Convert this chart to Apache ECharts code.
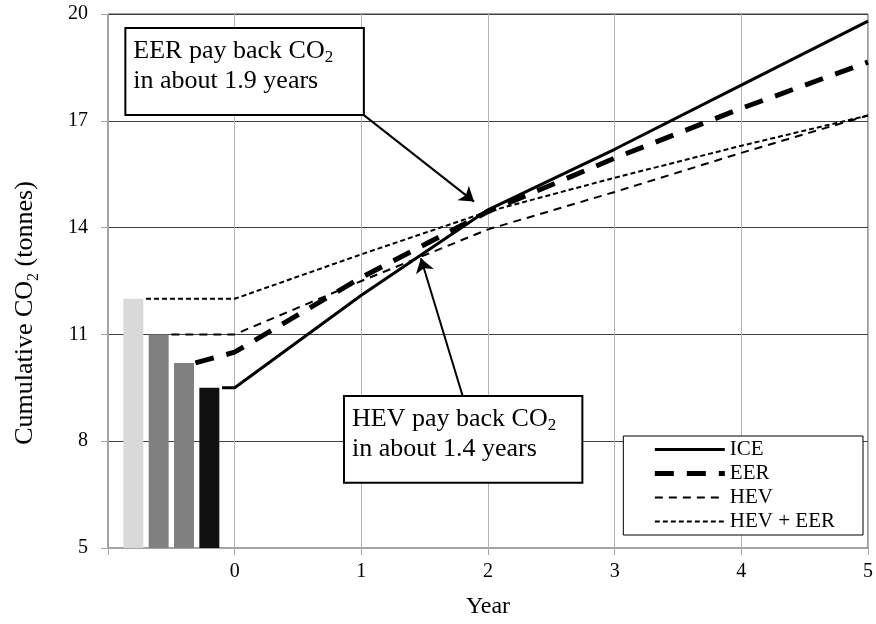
<!DOCTYPE html>
<html><head><meta charset="utf-8">
<script src="https://cdn.jsdelivr.net/npm/echarts@6/dist/echarts.min.js"></script>
<style>html,body{margin:0;padding:0;background:#fff}#c{width:876px;height:624px}</style>
</head><body><div id="c"></div>
<script>
const FONT = 'Liberation Serif';

// Bars (initial manufacturing CO2)
const barX = [-0.8, -0.6, -0.4, -0.2];
const barY = [12.0, 11.0, 10.2, 9.5];
const barColors = ['#d9d9d9', '#808080', '#808080', '#111111'];

// Cumulative CO2 lines
const iceX = [-0.1, 0, 1, 2, 3, 4, 5];
const iceY = [9.5, 9.5, 12.1, 14.5, 16.2, 18.0, 19.8];
const eerX = [-0.31, 0, 1, 2, 3, 4, 5];
const eerY = [10.2, 10.5, 12.6, 14.45, 15.95, 17.35, 18.65];
const hevX = [-0.5, 0, 1, 2, 3, 4, 5];
const hevY = [11.0, 11.0, 12.5, 13.95, 15.0, 16.1, 17.15];
const hevEerX = [-0.7, 0, 1, 2, 3, 4, 5];
const hevEerY = [12.0, 12.0, 13.25, 14.45, 15.4, 16.3, 17.15];

const xTicks = [-1, 0, 1, 2, 3, 4, 5];
const yTicks = [5, 8, 11, 14, 17, 20];
const seriesNames = ['ICE', 'EER', 'HEV', 'HEV + EER'];

// Annotations (data coordinates)
const note1Box = [-0.863, 19.61, 1.02, 17.16];
const note1Arrow = [[1.02, 17.16], [1.89, 14.73]];
const note1Text = ['EER pay back CO{s|2}', 'in about 1.9 years'];
const note2Box = [0.863, 9.27, 2.745, 6.83];
const note2Arrow = [[1.80, 9.27], [1.47, 13.14]];
const note2Text = ['HEV pay back CO{s|2}', 'in about 1.4 years'];

const zip = (xs, ys) => xs.map((x, i) => [x, ys[i]]);

const chart = echarts.init(document.getElementById('c'), null, {renderer: 'canvas'});

const styles = {
  'ICE': {width: 3, type: 'solid'},
  'EER': {width: 5, type: [19, 13]},
  'HEV': {width: 2, type: [8, 6]},
  'HEV + EER': {width: 2, type: [5, 3]}
};

const lineSeries = (name, xs, ys) => ({
  name, type: 'line', data: zip(xs, ys), symbol: 'none', z: 5,
  itemStyle: {color: '#000'},
  lineStyle: {color: '#000', width: styles[name].width, type: styles[name].type, cap: 'butt'},
  emphasis: {disabled: true}
});

const ice = lineSeries(seriesNames[0], iceX, iceY);
ice.markLine = {
  silent: true, symbol: ['none', 'arrow'], symbolSize: 14,
  label: {show: false}, emphasis: {disabled: true},
  lineStyle: {color: '#000', width: 2, type: 'solid'},
  data: [
    [{coord: note1Arrow[0]}, {coord: note1Arrow[1]}],
    [{coord: note2Arrow[0]}, {coord: note2Arrow[1]}]
  ]
};

const option = {
  animation: false,
  backgroundColor: '#fff',
  grid: {left: 108, right: 5, top: 14, bottom: 76, show: true, borderColor: '#404040', borderWidth: 1, backgroundColor: 'transparent'},
  legend: {
    data: seriesNames.map(n => ({name: n, itemStyle: {opacity: 0}, lineStyle: {color: '#000', width: styles[n].width, type: styles[n].type}})),
    orient: 'vertical', right: 13, top: 436,
    padding: [3, 28, 3, 29], itemWidth: 70, itemHeight: 14, itemGap: 3,
    borderColor: '#000', borderWidth: 1, backgroundColor: '#fff', borderRadius: 0,
    align: 'left', selectedMode: false,
    itemStyle: {opacity: 0},
    textStyle: {fontFamily: FONT, fontSize: 21, color: '#000'}
  },
  xAxis: {
    type: 'value', min: xTicks[0], max: xTicks[xTicks.length - 1], interval: 1,
    axisLine: {show: true, onZero: false, lineStyle: {color: '#a6a6a6', width: 1}},
    axisTick: {show: true, length: 7, lineStyle: {color: '#a6a6a6'}},
    axisLabel: {formatter: v => v === xTicks[0] ? '' : String(v), fontFamily: FONT, fontSize: 20, color: '#000', margin: 14},
    splitLine: {show: true, lineStyle: {color: '#b3b3b3', width: 1}},
    name: 'Year', nameLocation: 'middle', nameGap: 47,
    nameTextStyle: {fontFamily: FONT, fontSize: 24, color: '#000'}
  },
  yAxis: {
    type: 'value', min: yTicks[0], max: yTicks[yTicks.length - 1], interval: yTicks[1] - yTicks[0],
    axisLine: {show: true, onZero: false, lineStyle: {color: '#a6a6a6', width: 1}},
    axisTick: {show: true, length: 7, lineStyle: {color: '#a6a6a6'}},
    axisLabel: {fontFamily: FONT, fontSize: 20, color: '#000', margin: 20},
    splitLine: {show: true, lineStyle: {color: '#404040', width: 1}},
    name: 'Cumulative CO{s|2} (tonnes)', nameLocation: 'middle', nameGap: 66, nameRotate: 90,
    nameTextStyle: {
      fontFamily: FONT, fontSize: 26, color: '#000', lineHeight: 34, padding: [0, 64, 0, 0],
      rich: {s: {fontFamily: FONT, fontSize: 16, color: '#000', lineHeight: 12, verticalAlign: 'bottom'}}
    }
  },
  series: [
    {
      type: 'bar', name: 'bars', barWidth: 20, z: 3,
      data: barX.map((x, i) => ({value: [x, barY[i]], itemStyle: {color: barColors[i]}})),
      emphasis: {disabled: true}
    },
    ice,
    lineSeries(seriesNames[1], eerX, eerY),
    lineSeries(seriesNames[2], hevX, hevY),
    lineSeries(seriesNames[3], hevEerX, hevEerY)
  ]
};
chart.setOption(option);

function noteGraphic(box, lines) {
  const p1 = chart.convertToPixel({gridIndex: 0}, [box[0], box[1]]);
  const p2 = chart.convertToPixel({gridIndex: 0}, [box[2], box[3]]);
  return [
    {type: 'rect', z: 100, shape: {x: p1[0], y: p1[1], width: p2[0] - p1[0], height: p2[1] - p1[1]},
     style: {fill: '#fff', stroke: '#000', lineWidth: 2}},
    {type: 'text', z: 101, x: p1[0] + 8, y: p1[1] + 8,
     style: {text: lines.join('\n'), fontFamily: FONT, fontSize: 26, fill: '#000', lineHeight: 30,
       align: 'left', verticalAlign: 'top',
       rich: {s: {fontFamily: FONT, fontSize: 17, fill: '#000', lineHeight: 10, verticalAlign: 'bottom'}}}}
  ];
}
chart.setOption({graphic: [...noteGraphic(note1Box, note1Text), ...noteGraphic(note2Box, note2Text)]});
</script></body></html>
